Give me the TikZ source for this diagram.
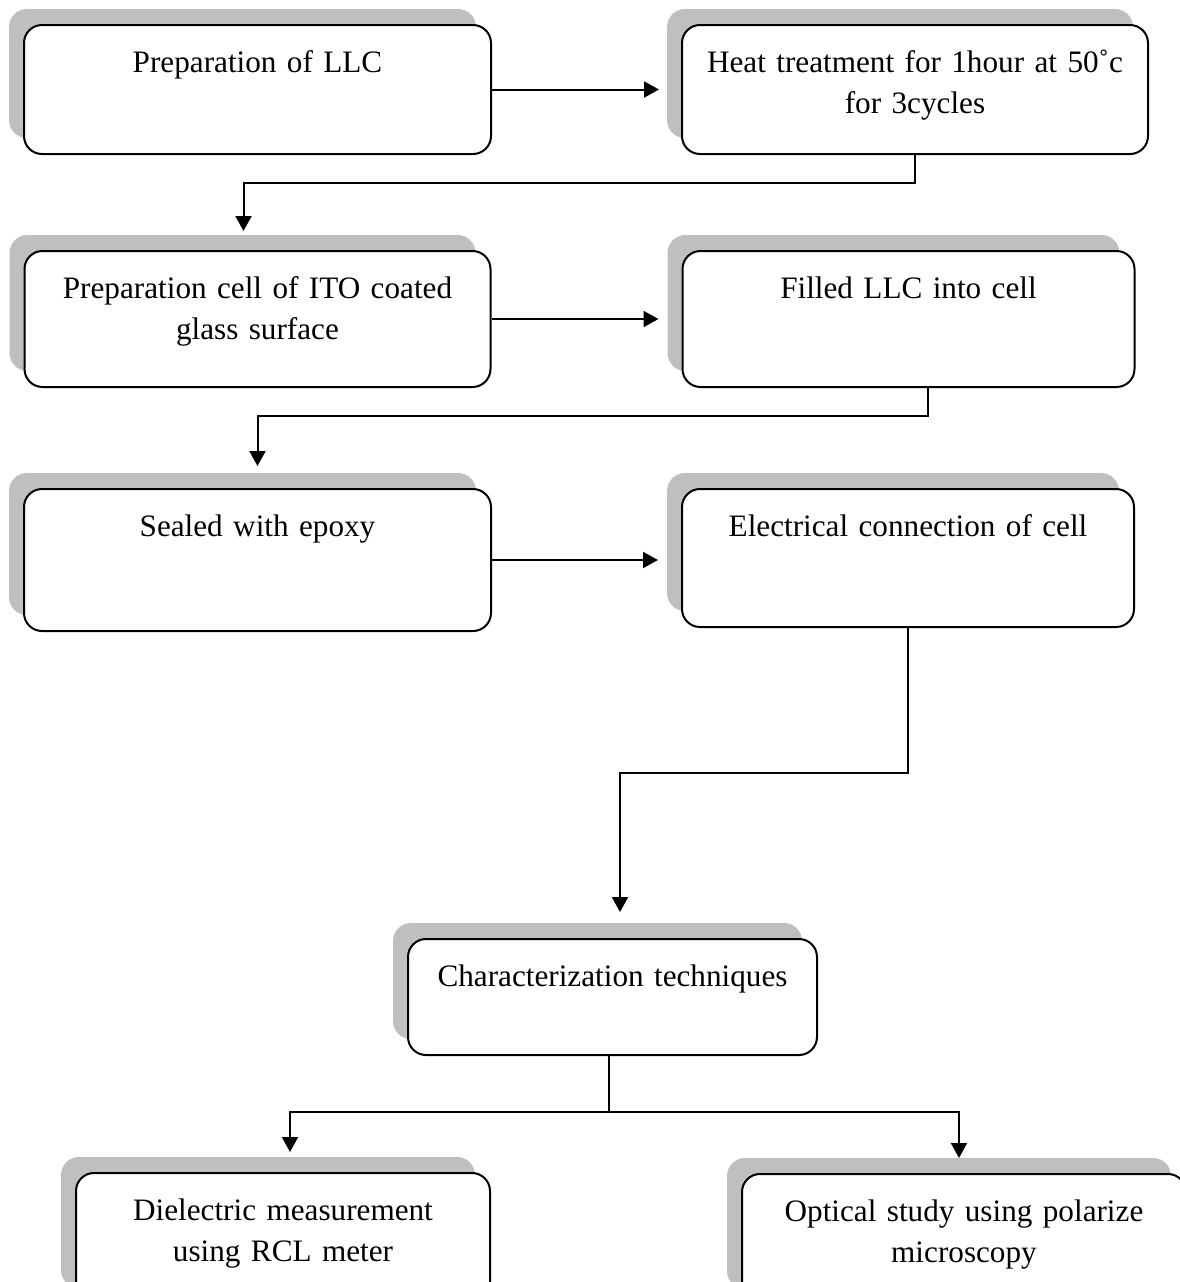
\documentclass[tikz,border=0pt]{standalone}
\usepackage{fontspec}
\setmainfont{Liberation Serif}
\usetikzlibrary{positioning,shadows,arrows.meta}
\definecolor{shadowgray}{RGB}{191,191,191}
\tikzset{
  box/.style={draw, line width=1pt, rounded corners=9pt, fill=white,
    inner sep=0pt, align=center, text height=23.5pt,
    font=\fontsize{15.6pt}{20.5pt}\selectfont,
    general shadow={fill=shadowgray, shadow xshift=-7.5pt, shadow yshift=8pt}},
  arr/.style={line width=1pt, -{Triangle[length=7.5pt,width=8pt]}},
  ln/.style={line width=1pt}
}
\begin{document}
\begin{tikzpicture}
  \useasboundingbox (0,0) rectangle (590pt,-641pt);
  \clip (0,0) rectangle (590pt,-641pt);

  \node[box, text width=233.5pt, text depth=41pt, anchor=north west] (prep) at (11.5pt,-12pt) {Preparation of LLC};
  \node[box, text width=233pt, text depth=41pt, right=94.5pt of prep] (heat) {Heat treatment for 1hour at 50˚c\\ for 3cycles};
  \node[box, text width=233pt, text depth=44.5pt, below=47.5pt of prep] (cell) {Preparation cell of ITO coated\\ glass surface};
  \node[box, text width=226pt, text depth=44.5pt, right=95pt of cell] (filled) {Filled LLC into cell};
  \node[box, text width=233.5pt, text depth=47.5pt, below=50pt of cell] (seal) {Sealed with epoxy};
  \node[box, text width=226pt, text depth=45.5pt, right=94.5pt of seal.north east, anchor=north west] (elec) {Electrical connection of cell};
  \node[box, text width=204.5pt, text depth=34.5pt, anchor=north] (char) at (306.25pt,-469pt) {Characterization techniques};
  \node[box, text width=207pt, text depth=42pt, anchor=north west] (diel) at (37.5pt,-586pt) {Dielectric measurement\\ using RCL meter};
  \node[box, text width=222pt, text depth=42pt, anchor=north west] (opt) at (370.5pt,-586.5pt) {Optical study using polarize\\ microscopy};

  \draw[arr, shorten >=11pt] (prep.east) -- (prep.east -| heat.west);
  \draw[arr] (heat.south) -- ++(0,-14pt) -| ([xshift=-7pt,yshift=9.5pt]cell.north);
  \draw[arr, shorten >=11.5pt] (cell.east) -- (cell.east -| filled.west);
  \draw[arr] ([xshift=9.5pt]filled.south) -- ++(0,-14pt) -| ([yshift=11pt]seal.north);
  \draw[arr, shorten >=11.5pt] (seal.east) -- (seal.east -| elec.west);
  \draw[arr] (elec.south) -- ++(0,-72.5pt) -| ([xshift=3.75pt,yshift=13pt]char.north);

  \coordinate (split) at ([xshift=-1.75pt,yshift=-28pt]char.south);
  \draw[ln] ([xshift=-1.75pt]char.south) -- (split);
  \draw[arr] (split) -| ([xshift=3.5pt,yshift=10pt]diel.north);
  \draw[arr] (split) -| ([xshift=-2.5pt,yshift=7.5pt]opt.north);
\end{tikzpicture}
\end{document}
